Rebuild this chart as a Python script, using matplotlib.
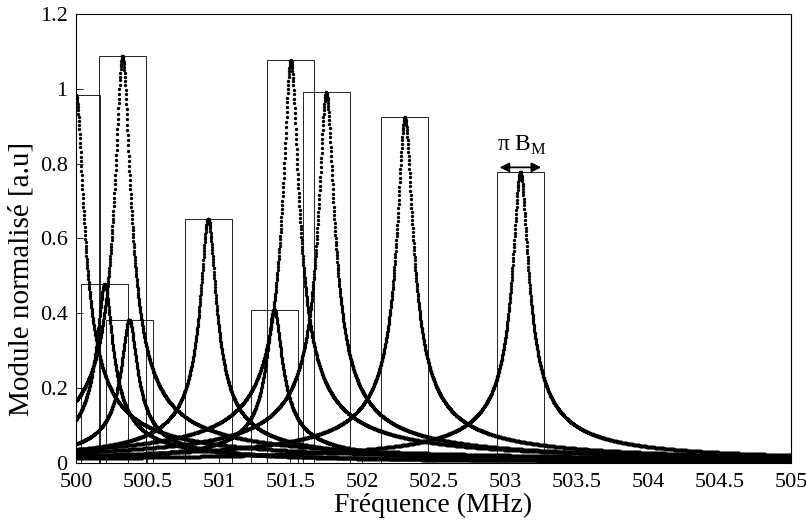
import numpy as np
import matplotlib.pyplot as plt
from matplotlib.patches import Rectangle

plt.rcParams['font.family'] = ['Liberation Serif', 'DejaVu Serif']
plt.rcParams['mathtext.fontset'] = 'custom'
plt.rcParams['mathtext.rm'] = 'Liberation Serif'

# resonance centres (MHz) and peak amplitudes
f0 = [500.00, 500.325, 500.20, 500.372, 500.924, 501.386, 501.502, 501.75, 502.30, 503.108]
amp = [0.984, 1.088, 0.478, 0.383, 0.653, 0.41, 1.076, 0.991, 0.924, 0.778]
gamma = 0.05       # half width parameter (MHz)
rect_w = 0.33      # pi * B_M

f = np.linspace(500, 505, 3000)

fig = plt.figure(figsize=(8.06, 5.24), dpi=100)
ax = fig.add_axes([0.0943, 0.1164, 0.887, 0.857])

for c, a in zip(f0, amp):
    h = a / np.sqrt(1 + ((f - c) / gamma) ** 2)
    ax.plot(f, h, linestyle='none', marker='.', markersize=2.8, color='black')
    ax.add_patch(Rectangle((c - rect_w / 2, 0), rect_w, a, fill=False,
                           edgecolor='black', linewidth=0.6))

# pi B_M annotation on the last peak
c_last, a_last = f0[-1], amp[-1]
ax.annotate('', xy=(c_last - rect_w / 2, a_last + 0.012),
            xytext=(c_last + rect_w / 2, a_last + 0.012),
            arrowprops=dict(arrowstyle='<|-|>', color='black', lw=1.3,
                            mutation_scale=14))
ax.text(c_last + 0.01, a_last + 0.04, 'π B$_{\\mathrm{M}}$', fontsize=17,
        ha='center', va='bottom')

ax.set_xlim(500, 505)
ax.set_ylim(0, 1.2)
ax.set_xticks(np.arange(500, 505.01, 0.5))
ax.set_xticklabels(['500', '500.5', '501', '501.5', '502', '502.5', '503',
                    '503.5', '504', '504.5', '505'])
ax.set_yticks([0, 0.2, 0.4, 0.6, 0.8, 1, 1.2])
ax.set_yticklabels(['0', '0.2', '0.4', '0.6', '0.8', '1', '1.2'])
ax.tick_params(direction='in', length=5, labelsize=16, width=0.6)
ax.tick_params(axis='x', pad=7)
ax.tick_params(axis='y', pad=6)
for s in ax.spines.values():
    s.set_linewidth(0.8)
ax.set_xlabel('Fréquence (MHz)', fontsize=20, labelpad=1)
ax.set_ylabel('Module normalisé [a.u]', fontsize=21)
ax.yaxis.set_label_coords(-0.058, 0.41)

fig.savefig('out.png', dpi=100)
